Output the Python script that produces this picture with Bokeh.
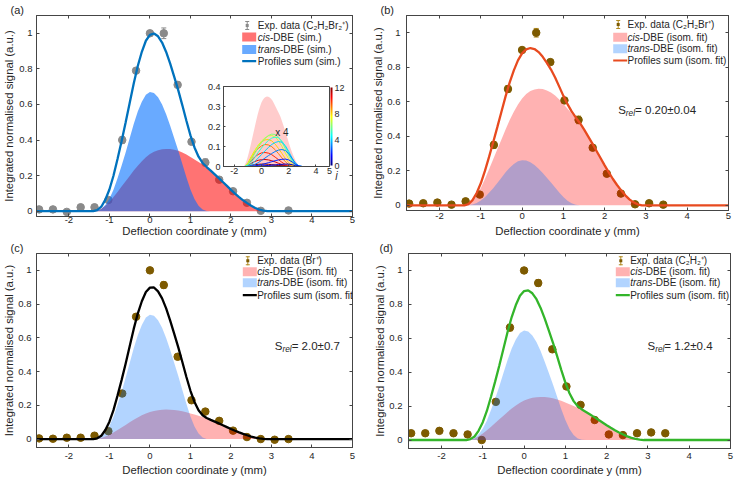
import math
from bokeh.plotting import figure
from bokeh.models import (Range1d, LinearAxis, FixedTicker, Whisker, TeeHead, Label,
                          BoxAnnotation, ColorBar, LinearColorMapper, GridBox, ColumnDataSource)
from bokeh.transform import linear_cmap
from bokeh.embed import file_html
from bokeh.resources import INLINE

FONT = "Liberation Sans"
INK = "#262626"
FRAME = "#454545"

# ---------------- data ----------------
# deflection grid of the simulated profiles (mm)
y_grid = [-2.8, -1.4, -1.3, -1.2, -1.1, -1.0, -0.9, -0.8, -0.7, -0.6, -0.5, -0.4, -0.3, -0.2, -0.1,
          0.0, 0.1, 0.2, 0.3, 0.4, 0.5, 0.6, 0.7, 0.8, 0.9, 1.0, 1.1, 1.2, 1.3, 1.4, 1.5, 1.6, 1.7,
          1.8, 1.9, 2.0, 2.1, 2.2, 2.3, 2.4, 2.5, 2.6, 2.7, 2.8, 2.9, 5.0]
cis_sim = [0, 0, 0.003, 0.013, 0.03, 0.052, 0.079, 0.108, 0.138, 0.168, 0.198, 0.228, 0.256,
           0.281, 0.303, 0.321, 0.334, 0.343, 0.348, 0.35, 0.349, 0.345, 0.339, 0.33, 0.318,
           0.304, 0.29, 0.276, 0.262, 0.247, 0.228, 0.207, 0.186, 0.164, 0.142, 0.12, 0.099,
           0.079, 0.061, 0.045, 0.03, 0.018, 0.009, 0.003, 0, 0]
trans_sim = [0, 0, 0.003, 0.012, 0.035, 0.07, 0.12, 0.185, 0.255, 0.33, 0.41, 0.49, 0.56, 0.615,
             0.655, 0.67, 0.665, 0.64, 0.6, 0.545, 0.48, 0.41, 0.34, 0.265, 0.19, 0.122, 0.068,
             0.03, 0.009, 0.001, 0, 0, 0, 0, 0, 0, 0, 0, 0, 0, 0, 0, 0, 0, 0, 0]

# isomer-fit weights applied to the simulated profiles (cis, trans)
fit_weights = {"a": (1.0, 1.0), "b": (1.93, 0.39), "c": (0.5, 1.1), "d": (0.726, 0.963)}

# measured points
y_exp = [-2.736, -2.394, -2.052, -1.71, -1.368, -1.026, -0.684, -0.342, 0.0, 0.342, 0.684,
         1.026, 1.368, 1.71, 2.052, 2.394, 2.736, 3.078, 3.42]
y_exp_a = [-2.736, -2.394, -2.052, -1.71, -1.368, -1.026, -0.684, -0.342, 0.0, 0.342, 0.684,
           1.026, 1.368, 1.71, 2.052, 2.394, 2.736, 3.42]
sig_a = [0.010, 0.010, -0.004, 0.022, 0.022, 0.063, 0.400, 0.790, 1.000, 1.000, 0.710, 0.390,
         0.274, 0.177, 0.112, 0.047, 0.002, 0.004]
err_a = [0.006, 0.006, 0.006, 0.008, 0.015, 0.010, 0.020, 0.010, 0.015, 0.030, 0.015, 0.012,
         0.020, 0.010, 0.010, 0.010, 0.005, 0.005]
sig_b = [0.010, 0.012, 0.016, 0.004, 0.023, 0.062, 0.350, 0.674, 0.900, 1.000, 0.830, 0.608,
         0.495, 0.334, 0.183, 0.068, 0.006, 0.012, 0.004]
err_b = [0.010, 0.008, 0.008, 0.006, 0.008, 0.008, 0.020, 0.020, 0.012, 0.025, 0.015, 0.012,
         0.022, 0.012, 0.010, 0.008, 0.006, 0.006, 0.006]
sig_c = [0.004, 0.002, 0.008, 0.008, 0.020, 0.047, 0.270, 0.725, 1.000, 0.913, 0.488, 0.230,
         0.163, 0.108, 0.050, 0.012, 0.000, -0.004, 0.000]
err_c = [0.006, 0.006, 0.006, 0.006, 0.008, 0.008, 0.012, 0.015, 0.015, 0.020, 0.012, 0.010,
         0.010, 0.008, 0.008, 0.006, 0.006, 0.006, 0.006]
sig_d = [0.040, 0.040, 0.054, 0.040, 0.033, 0.000, 0.225, 0.663, 1.000, 0.926, 0.535, 0.316,
         0.207, 0.118, 0.033, 0.029, 0.040, 0.045, 0.040]
err_d = [0.006, 0.006, 0.006, 0.006, 0.006, 0.008, 0.010, 0.020, 0.012, 0.020, 0.012, 0.012,
         0.012, 0.008, 0.008, 0.006, 0.006, 0.006, 0.006]

x_ticks = [-2, -1, 0, 1, 2, 3, 4, 5]
x_tick_labels = ["-2", "-1", "0", "1", "2", "3", "4", "5"]
s_ticks = [0, 0.2, 0.4, 0.6, 0.8, 1]
s_tick_labels = ["0", "0.2", "0.4", "0.6", "0.8", "1"]

# inset: rotational-state contributions (x4) of the cis profile
inset_grid = [-2.8, -1.5, -1.25, -1.0, -0.75, -0.5, -0.25, 0.0, 0.25, 0.5, 0.75, 1.0, 1.25, 1.5,
              1.75, 2.0, 2.25, 2.5, 2.75, 3.0, 5.0]
j_levels = [0, 12, 11, 10, 9, 8, 7, 6, 5, 4, 3, 2, 1]
j_curves = [
    [0, 0, 0, 0, 0, 0, 0, 0.001, 0.001, 0.001, 0.002, 0.002, 0.002, 0.003, 0.003, 0.003, 0.002, 0.001, 0, 0, 0],
    [0, 0, 0, 0.002, 0.006, 0.009, 0.011, 0.012, 0.012, 0.011, 0.009, 0.007, 0.005, 0.003, 0.001, 0, 0, 0, 0, 0, 0],
    [0, 0, 0, 0.006, 0.016, 0.025, 0.031, 0.034, 0.035, 0.033, 0.029, 0.023, 0.016, 0.009, 0.004, 0.001, 0, 0, 0, 0, 0],
    [0, 0, 0, 0.012, 0.030, 0.048, 0.060, 0.068, 0.070, 0.067, 0.059, 0.047, 0.034, 0.021, 0.010, 0.003, 0, 0, 0, 0, 0],
    [0, 0, 0, 0.015, 0.045, 0.070, 0.090, 0.103, 0.110, 0.108, 0.099, 0.084, 0.064, 0.043, 0.024, 0.009, 0.002, 0, 0, 0, 0],
    [0, 0, 0, 0.018, 0.050, 0.080, 0.105, 0.123, 0.133, 0.135, 0.128, 0.112, 0.090, 0.065, 0.040, 0.019, 0.005, 0, 0, 0, 0],
    [0, 0, 0, 0.015, 0.045, 0.078, 0.105, 0.127, 0.143, 0.153, 0.155, 0.147, 0.128, 0.100, 0.068, 0.037, 0.013, 0.002, 0, 0, 0],
    [0, 0, 0, 0.010, 0.035, 0.065, 0.095, 0.120, 0.140, 0.155, 0.162, 0.160, 0.147, 0.122, 0.089, 0.054, 0.024, 0.006, 0, 0, 0],
    [0, 0, 0, 0.005, 0.022, 0.045, 0.070, 0.093, 0.113, 0.130, 0.142, 0.147, 0.143, 0.127, 0.100, 0.066, 0.032, 0.010, 0.001, 0, 0],
    [0, 0, 0, 0.002, 0.010, 0.025, 0.042, 0.060, 0.078, 0.095, 0.110, 0.120, 0.125, 0.121, 0.104, 0.075, 0.042, 0.015, 0.002, 0, 0],
    [0, 0, 0, 0, 0.004, 0.010, 0.019, 0.030, 0.042, 0.054, 0.065, 0.075, 0.082, 0.085, 0.080, 0.064, 0.040, 0.016, 0.003, 0, 0],
    [0, 0, 0, 0, 0.001, 0.003, 0.006, 0.010, 0.014, 0.019, 0.024, 0.029, 0.033, 0.036, 0.037, 0.033, 0.023, 0.010, 0.002, 0, 0],
    [0, 0, 0, 0, 0, 0.001, 0.002, 0.003, 0.004, 0.005, 0.007, 0.008, 0.010, 0.011, 0.012, 0.012, 0.009, 0.004, 0.001, 0, 0],
]
inset_x_ticks = [-2, 0, 2, 4, 5]
inset_x_labels = ["-2", "0", "2", "4", "5"]
inset_s_ticks = [0, 0.1, 0.2, 0.3, 0.4]
inset_s_labels = ["0", "0.1", "0.2", "0.3", "0.4"]
j_ticks = [0, 4, 8, 12]

# ---------------- styling helpers ----------------
ADV = {' ': 278, '(': 333, ')': 333, '.': 278, '-': 333, '=': 584, '±': 584, '+': 584,
       '⁺': 350, '₂': 350}
for ch in "0123456789":
    ADV[ch] = 556
ADV.update(dict(zip("ABCDEFGHIJKLMNOPQRSTUVWXYZ",
                    [667, 667, 722, 722, 667, 611, 778, 722, 278, 500, 667, 556, 833, 722, 778,
                     667, 778, 722, 667, 611, 722, 667, 944, 667, 667, 611])))
ADV.update(dict(zip("abcdefghijklmnopqrstuvwxyz",
                    [556, 556, 500, 556, 556, 278, 556, 556, 222, 222, 500, 222, 833, 556, 556,
                     556, 556, 333, 500, 278, 556, 500, 722, 500, 500, 500])))


def text_width(s, size):
    return sum(ADV.get(c, 556) for c in s) * size / 1000.0


def jet(v):
    def f(t):
        return max(0.0, min(1.0, t))
    r, g, b = f(1.5 - abs(4 * v - 3)), f(1.5 - abs(4 * v - 2)), f(1.5 - abs(4 * v - 1))
    return "#%02x%02x%02x" % (round(r * 255), round(g * 255), round(b * 255))


JET = [jet(i / 255.0) for i in range(256)]


class Panel:
    def __init__(self, W, H, L, R, T, B, xr, yr):
        self.W, self.H, self.L, self.R, self.T, self.B = W, H, L, R, T, B
        self.p = figure(width=W, height=H, x_range=Range1d(*xr), y_range=Range1d(*yr),
                        output_backend="svg", toolbar_location=None, frame_align=False,
                        min_border_left=L, min_border_right=R, min_border_top=T,
                        min_border_bottom=B)
        p = self.p
        p.grid.visible = False
        p.outline_line_color = FRAME
        p.outline_line_width = 1
        p.background_fill_color = "white"
        p.border_fill_color = None

    # figure pixel coords (origin top-left) -> frame-relative screen units
    def sx(self, x):
        return x - self.L

    def sy(self, y):
        return (self.H - self.B) - y

    def label(self, x, y, text, size, style="normal", align="left", baseline="middle",
              color=INK):
        self.p.add_layout(Label(x=self.sx(x), y=self.sy(y), x_units="screen", y_units="screen",
                                text=text, text_font=FONT, text_font_size=f"{size}px",
                                text_font_style=style, text_align=align, text_baseline=baseline,
                                text_color=color))

    def rich(self, x, y, parts, size):
        cx = x
        for text, style, dy, scale in parts:
            self.label(cx, y + dy, text, size * scale, style=style)
            cx += text_width(text, size * scale)

    def box(self, x0, x1, y0, y1, color, alpha=1.0):
        self.p.add_layout(BoxAnnotation(left=self.sx(x0), right=self.sx(x1),
                                        bottom=self.sy(y1), top=self.sy(y0),
                                        left_units="screen", right_units="screen",
                                        top_units="screen", bottom_units="screen",
                                        fill_color=color, fill_alpha=alpha, line_color=None,
                                        level="overlay"))


def style_axis(ax, ticks, labels, standoff, size=9.5, show_labels=True):
    ax.ticker = FixedTicker(ticks=ticks)
    ax.major_tick_in = 3
    ax.major_tick_out = 0
    ax.minor_tick_line_color = None
    ax.axis_line_color = FRAME
    ax.major_tick_line_color = FRAME
    if show_labels:
        ax.major_label_overrides = {t: l for t, l in zip(ticks, labels)}
        ax.major_label_text_font = FONT
        ax.major_label_text_font_size = f"{size}px"
        ax.major_label_text_color = INK
        ax.major_label_standoff = standoff
    else:
        ax.major_label_overrides = {t: "" for t in ticks}
        ax.major_label_text_font_size = "0px"
        ax.major_label_standoff = 0


def axis_title(ax, text, standoff):
    ax.axis_label = text
    ax.axis_label_text_font = FONT
    ax.axis_label_text_font_size = "11.3px"
    ax.axis_label_text_font_style = "normal"
    ax.axis_label_text_color = INK
    ax.axis_label_standoff = standoff


FILL_STRONG = {"cis": ("#ff0000", 0.55), "trans": ("#006fff", 0.59)}
FILL_LIGHT = {"cis": ("#ff0000", 0.30), "trans": ("#006fff", 0.30)}


def build_panel(key, geom, yr, xs, sig, err, pt_color, bar_color, fills, line_color,
                legend, srel, offsets, tag):
    pan = Panel(*geom, xr=(-2.8, 5.0), yr=yr)
    p = pan.p
    xs_tick, xs_lab, ys_tick, ys_lab = offsets
    style_axis(p.xaxis[0], x_ticks, x_tick_labels, xs_tick)
    style_axis(p.yaxis[0], s_ticks, s_tick_labels, ys_tick)
    axis_title(p.xaxis[0], "Deflection coordinate y (mm)", xs_lab)
    axis_title(p.yaxis[0], "Integrated normalised signal (a.u.)", ys_lab)
    top = LinearAxis()
    style_axis(top, x_ticks, x_tick_labels, 0, show_labels=False)
    p.add_layout(top, "above")
    right = LinearAxis()
    style_axis(right, s_ticks, s_tick_labels, 0, show_labels=False)
    p.add_layout(right, "right")

    # panel tag
    p.title.text = tag[0]
    p.title.align = "left"
    p.title.offset = tag[1] - pan.L
    p.title.standoff = 0
    p.title.text_font = FONT
    p.title.text_font_size = "11px"
    p.title.text_font_style = "normal"
    p.title.text_color = INK

    # experimental points with error bars
    src = ColumnDataSource(dict(x=xs, s=sig, lo=[v - e for v, e in zip(sig, err)],
                                hi=[v + e for v, e in zip(sig, err)]))
    p.add_layout(Whisker(source=src, base="x", lower="lo", upper="hi", line_color=bar_color,
                         line_width=1, level="underlay",
                         upper_head=TeeHead(size=5, line_color=bar_color, line_width=1),
                         lower_head=TeeHead(size=5, line_color=bar_color, line_width=1)))
    p.scatter("x", "s", source=src, size=7.5, fill_color=pt_color, line_color=pt_color)

    wc, wt = fit_weights[key]
    cis = [wc * v for v in cis_sim]
    trans = [wt * v for v in trans_sim]
    total = [c + t for c, t in zip(cis, trans)]
    p.varea(x=y_grid, y1=0, y2=cis, fill_color=fills["cis"][0], fill_alpha=fills["cis"][1])
    p.varea(x=y_grid, y1=0, y2=trans, fill_color=fills["trans"][0], fill_alpha=fills["trans"][1])
    p.line(y_grid, total, line_color=line_color, line_width=2.3)

    # legend
    ix0, tx, rows, exp_text, suffix, sum_text = legend
    r0, r1, r2, r3 = rows
    cxi = ix0 + 5
    pan.box(cxi - 0.5, cxi + 0.5, r0 - 4.5, r0 + 4.5, bar_color)
    pan.box(cxi - 2, cxi + 2, r0 - 4.5, r0 - 3.5, bar_color)
    pan.box(cxi - 2, cxi + 2, r0 + 3.5, r0 + 4.5, bar_color)
    pan.box(cxi - 1.5, cxi + 1.5, r0 - 1.5, r0 + 1.5, pt_color)
    pan.label(tx, r0, exp_text, 10)
    pan.box(ix0, ix0 + 14, r1 - 4.5, r1 + 4.5, fills["cis"][0], fills["cis"][1])
    pan.rich(tx, r1, [("cis", "italic", 0, 1), (suffix, "normal", 0, 1)], 10)
    pan.box(ix0, ix0 + 14, r2 - 4.5, r2 + 4.5, fills["trans"][0], fills["trans"][1])
    pan.rich(tx, r2, [("trans", "italic", 0, 1), (suffix, "normal", 0, 1)], 10)
    pan.box(ix0, ix0 + 14, r3 - 1.1, r3 + 1.1, line_color)
    pan.label(tx, r3, sum_text, 10)

    if srel is not None:
        sx_, sy_, val = srel
        pan.rich(sx_, sy_, [("S", "normal", 0, 1), ("rel", "italic", 3.5, 0.72),
                            ("= " + val, "normal", 0, 1)], 11.5)
    return pan


pa = build_panel("a", (367, 239, 31, 15, 15, 22), (-0.03, 1.1), y_exp_a, sig_a, err_a,
                 "#8a8a8a", "#8a8a8a", FILL_STRONG, "#0072bd",
                 (236.7, 252.3, (26, 37.5, 50, 61.7), "Exp. data (C₂H₂Br₂⁺)", "-DBE (sim.)",
                  "Profiles sum (sim.)"),
                 None, (0, -1, 4, 1), ("(a)", 5))
pb = build_panel("b", (367, 239, 39, 6, 15, 28), (-0.03, 1.1), y_exp, sig_b, err_b,
                 "#7d5a00", "#b08a20", FILL_LIGHT, "#e84a1f",
                 (245.7, 260, (25, 37.7, 49.3, 61), "Exp. data (C₂H₂Br⁺)", "-DBE (isom. fit)",
                  "Profiles sum (isom. fit)"),
                 (250.7, 110, "0.20±0.04"), (2, 3, 6, 0), ("(b)", 13))
pc = build_panel("c", (367, 239, 31, 15, 12, 30), (-0.05, 1.1), y_exp, sig_c, err_c,
                 "#7d5a00", "#b08a20", FILL_LIGHT, "#000000",
                 (237.3, 251.7, (22.3, 33.3, 44.3, 56.7), "Exp. data (Br⁺)", "-DBE (isom. fit)",
                  "Profiles sum (isom. fit)"),
                 (269.3, 107.3, "2.0±0.7"), (5, 2, 5, 0), ("(c)", 5))
pd = build_panel("d", (367, 239, 41, 4, 13, 29), (-0.05, 1.1), y_exp, sig_d, err_d,
                 "#7d5a00", "#b08a20", FILL_LIGHT, "#33b52a",
                 (248.3, 262.7, (22.3, 33.3, 44.3, 56.7), "Exp. data (C₂H₂⁺)", "-DBE (isom. fit)",
                  "Profiles sum (isom. fit)"),
                 (280, 107.3, "1.2±0.4"), (4, 2, 6, 0), ("(d)", 12))

# ---------------- inset of panel (a) ----------------
ins = Panel(150, 100, 23, 18, 6, 14, xr=(-2.8, 5.0), yr=(0, 0.4))
ip = ins.p
style_axis(ip.xaxis[0], inset_x_ticks, inset_x_labels, 1, size=9)
style_axis(ip.yaxis[0], inset_s_ticks, inset_s_labels, 3, size=9)
ip.xaxis[0].major_tick_in = 2
ip.yaxis[0].major_tick_in = 2
ip.varea(x=y_grid, y1=0, y2=cis_sim, fill_color="#ff0000", fill_alpha=0.2)
mapper = LinearColorMapper(palette=JET, low=0, high=12)
jsrc = ColumnDataSource(dict(xs=[inset_grid] * len(j_curves), ys=j_curves, j=j_levels))
ip.multi_line("xs", "ys", source=jsrc, line_width=1,
              line_color=linear_cmap("j", JET, 0, 12))
ip.add_layout(Label(x=1.0, y=0.17, text="x 4", text_font=FONT, text_font_size="10px",
                    text_color=INK, text_baseline="middle"))
cb = ColorBar(color_mapper=mapper, ticker=FixedTicker(ticks=j_ticks), width=2, padding=1,
              margin=0, label_standoff=2, major_label_text_font=FONT,
              major_label_text_font_size="9px", major_label_text_color=INK,
              major_tick_line_color=None, border_line_color=None,
              background_fill_color=None, bar_line_color=None)
ip.add_layout(cb, "right")
ip.add_layout(Label(x=-12, y=-9, x_units="screen", y_units="screen", text="j",
                    text_font=FONT, text_font_size="10px", text_font_style="italic",
                    text_color=INK, text_align="center", text_baseline="middle"), "right")

grid = GridBox(children=[(pa.p, 0, 0, 3, 3), (ins.p, 1, 1), (pb.p, 0, 3, 3, 1),
                         (pc.p, 3, 0, 1, 3), (pd.p, 3, 3)],
               rows=["80px", "100px", "59px", "239px"],
               cols=["200px", "150px", "17px", "367px"], spacing=0)

open("out.html", "w").write(file_html(grid, INLINE))
